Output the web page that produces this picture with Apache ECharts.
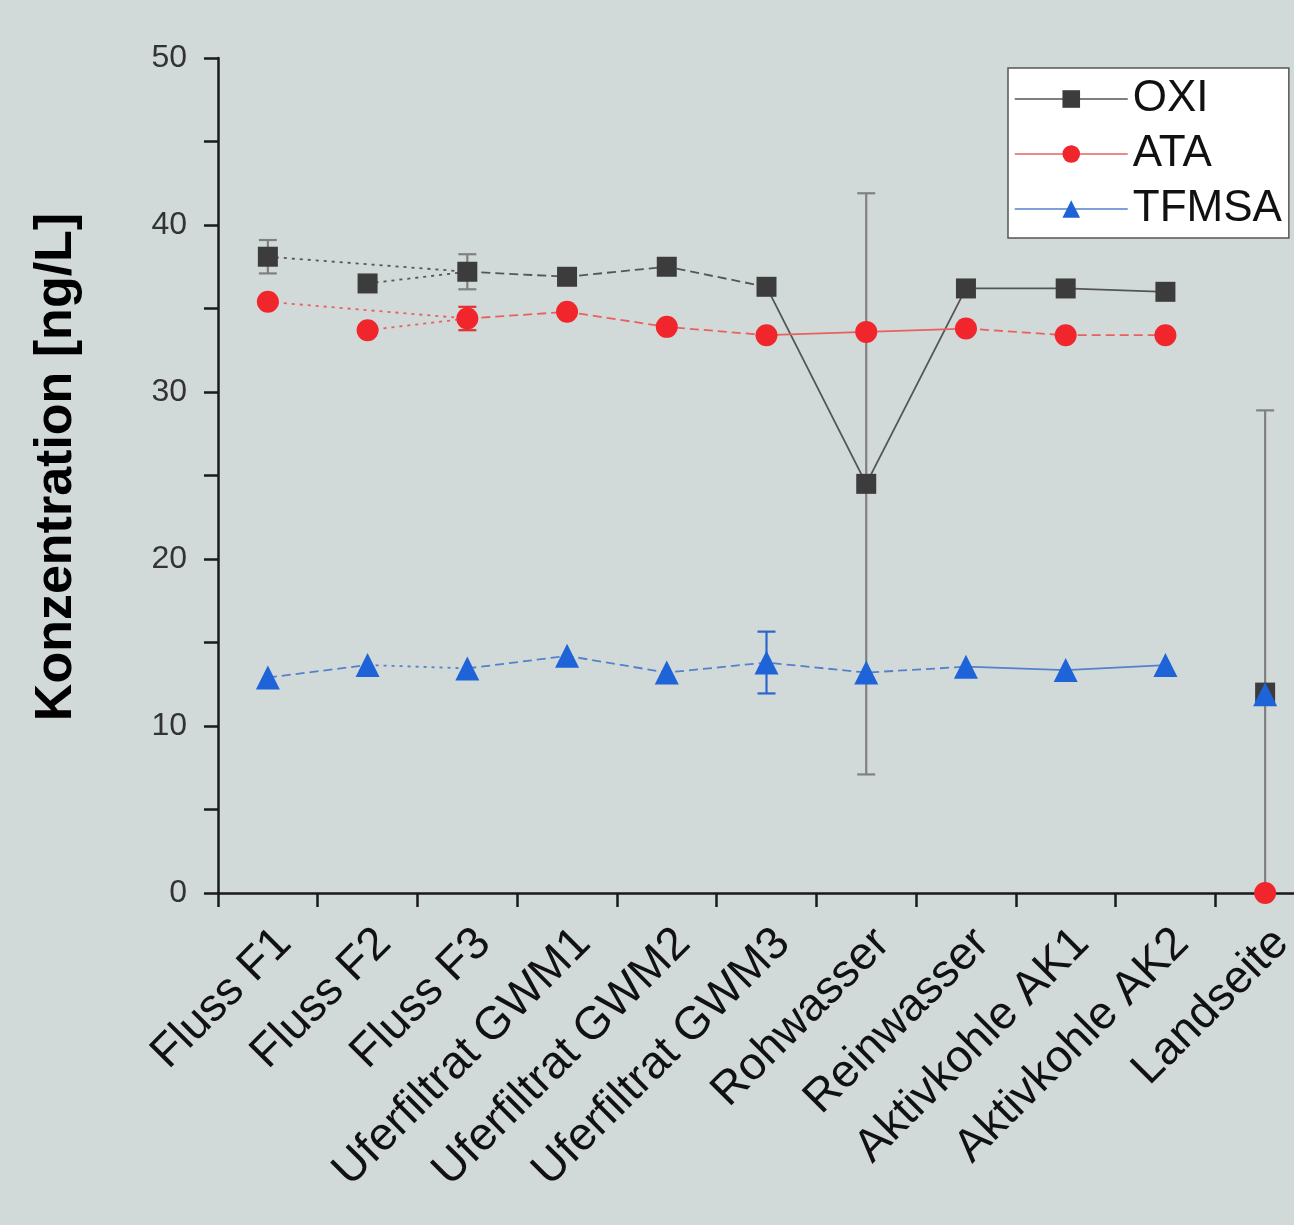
<!DOCTYPE html>
<html><head><meta charset="utf-8">
<script src="https://cdn.jsdelivr.net/npm/echarts@6/dist/echarts.min.js"></script>
<style>html,body{margin:0;padding:0;background:#d2d9d9;}#c{width:1294px;height:1225px;}</style>
</head><body><div id="c"></div>
<script>
const categories = ['Fluss F1','Fluss F2','Fluss F3','Uferfiltrat GWM1','Uferfiltrat GWM2','Uferfiltrat GWM3','Rohwasser','Reinwasser','Aktivkohle AK1','Aktivkohle AK2','Landseite'];
const oxi    = [38.1, 36.5, 37.2, 36.9, 37.5, 36.3, 24.5, 36.2, 36.2, 36.0, 12.0];
const oxiErr = [1.0, 0, 1.05, 0, 0, 0, 17.4, 0, 0, 0, 16.9];
const ata    = [35.4, 33.7, 34.4, 34.8, 33.9, 33.4, 33.6, 33.8, 33.4, 33.4, 0];
const ataErr = [0, 0, 0.7, 0, 0, 0, 0, 0, 0, 0, 0];
const tfmsa  = [12.9, 13.65, 13.45, 14.2, 13.2, 13.8, 13.2, 13.55, 13.35, 13.65, 11.9];
const tfmsaErr = [0, 0, 0, 0, 0, 1.85, 0, 0, 0, 0, 0];
const yTicks = [0, 10, 20, 30, 40, 50];

const DOT = [3, 5], DASH = [9, 5];
const FONT = 'Liberation Sans, Arial, sans-serif';
const defs = [
  {name:'OXI', vals:oxi, err:oxiErr, color:'#3c3c3c', line:'#555555', errColor:'#808080', symbol:'rect', size:20,
   segs:[[DOT,[0,2]],[DOT,[1,2]],[DASH,[2,3,4,5]],['solid',[5,6,7,8,9]]]},
  {name:'ATA', vals:ata, err:ataErr, color:'#f0262c', line:'#e86060', errColor:'#e03030', symbol:'circle', size:22,
   segs:[[DOT,[0,2]],[DOT,[1,2]],[DASH,[2,3,4,5]],['solid',[5,6,7]],[DASH,[7,8,9]]]},
  {name:'TFMSA', vals:tfmsa, err:tfmsaErr, color:'#1e64d8', line:'#5580cc', errColor:'#2a66cc', symbol:'triangle', size:24,
   segs:[[DASH,[0,1]],[DOT,[1,2]],[DASH,[2,3,4,5,6,7]],['solid',[7,8,9]]]}
];

const series = [];
defs.forEach(d => {
  d.segs.forEach(([type, idx]) => {
    const data = d.vals.map((v, i) => idx.includes(i) ? v : null);
    series.push({type:'line', name:d.name+'_seg', data, connectNulls:true, symbol:'none', silent:true,
      lineStyle:{color:d.line, width:1.8, type}, z:2, animation:false});
  });
});
defs.forEach(d => {
  const eb = [];
  d.err.forEach((e, i) => { if (e > 0) eb.push([i, d.vals[i] - e, d.vals[i] + e]); });
  series.push({type:'custom', name:d.name+'_err', data:eb, clip:true, z:3, silent:true, animation:false,
    renderItem(params, api) {
      const lo = api.coord([api.value(0), api.value(1)]);
      const hi = api.coord([api.value(0), api.value(2)]);
      const w = 9;
      const st = {stroke:d.errColor, lineWidth:2.2};
      return {type:'group', children:[
        {type:'line', shape:{x1:lo[0], y1:lo[1], x2:hi[0], y2:hi[1]}, style:st},
        {type:'line', shape:{x1:lo[0]-w, y1:lo[1], x2:lo[0]+w, y2:lo[1]}, style:st},
        {type:'line', shape:{x1:hi[0]-w, y1:hi[1], x2:hi[0]+w, y2:hi[1]}, style:st}
      ]};
    }});
});
defs.forEach(d => {
  series.push({type:'line', name:d.name, data:d.vals, symbol:d.symbol, symbolSize:d.size, showAllSymbol:true,
    lineStyle:{color:d.line, width:1.5, opacity:0}, itemStyle:{color:d.color, opacity:1}, z:5, clip:false, animation:false});
});

const chart = echarts.init(document.getElementById('c'));
chart.setOption({
  backgroundColor:'#d2d9d9',
  animation:false,
  grid:{left:218, top:58, width:1097, height:835, outerBoundsMode:'none', containLabel:false},
  legend:{
    left:1008, top:68, orient:'vertical', backgroundColor:'#ffffff', borderColor:'#555', borderWidth:1.5,
    padding:[9, 7, 7, 6], itemGap:11, itemWidth:113, itemHeight:22,
    textStyle:{fontSize:44, color:'#111', fontFamily:FONT},
    data: defs.map(d => ({name:d.name, lineStyle:{color:d.line, width:1.5, opacity:1, type:'solid'}}))
  },
  xAxis:{type:'category', data:categories, boundaryGap:true,
    axisLine:{lineStyle:{color:'#1a1a1a', width:2.5}},
    axisTick:{show:true, alignWithLabel:false, length:14, lineStyle:{color:'#1a1a1a', width:2.5}},
    axisLabel:{rotate:45, interval:0, fontSize:46, margin:27, verticalAlign:'top', color:'#111', fontFamily:FONT}
  },
  yAxis:{type:'value', min:yTicks[0], max:yTicks[yTicks.length-1], interval:10,
    name:'Konzentration [ng/L]', nameLocation:'middle', nameGap:135, nameRotate:90,
    nameTextStyle:{fontSize:52, fontWeight:'bold', color:'#000', fontFamily:FONT, padding:[0,0,0,17]},
    axisLine:{show:true, lineStyle:{color:'#1a1a1a', width:2.5}},
    axisTick:{show:true, length:14, lineStyle:{color:'#1a1a1a', width:2.5}},
    minorTick:{show:true, splitNumber:2, length:14, lineStyle:{color:'#1a1a1a', width:2.5}},
    splitLine:{show:false},
    axisLabel:{fontSize:32, margin:31, color:'#333', fontFamily:FONT}
  },
  series
});
</script></body></html>
